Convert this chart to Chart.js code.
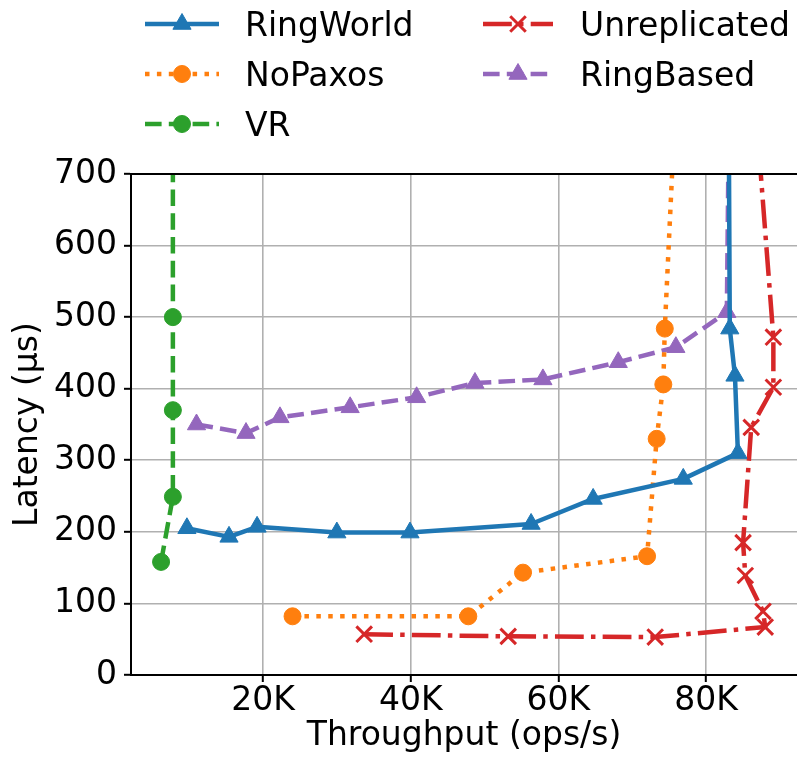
<!DOCTYPE html>
<html>
<head>
<meta charset="utf-8">
<script src="https://cdn.jsdelivr.net/npm/chart.js@4.4.1/dist/chart.umd.min.js"></script>
<style>
html, body { margin: 0; padding: 0; background: #fff; overflow: hidden; }
#wrap { width: 797px; height: 762px; }
</style>
</head>
<body>
<div id="wrap"><canvas id="latencyChart"></canvas></div>
<script>
// throughput (ops/s) and latency (us)
const ringWorldX = [9700, 15400, 19200, 30000, 39900, 56300, 64700, 76900, 84300, 83900, 83200, 83000];
const ringWorldY = [205, 193, 207, 199, 199, 211, 246, 274, 310, 418, 484, 900];

const noPaxosX = [24000, 47800, 55200, 72000, 73300, 74200, 74400, 76300];
const noPaxosY = [82, 82, 143, 166, 330, 406, 484, 900];

const vrX = [6200, 7800, 7800, 7800, 7800];
const vrY = [158, 249, 370, 500, 900];

const unreplicatedX = [33700, 53200, 73100, 88000, 87700, 85300, 85000, 86100, 89100, 89100, 85900];
const unreplicatedY = [57, 54, 53, 67, 89, 139, 185, 346, 402, 472, 900];

const ringBasedX = [11000, 17700, 22300, 31800, 40800, 48700, 57900, 68100, 75900, 82800, 83200];
const ringBasedY = [350, 338, 360, 374, 388, 408, 413, 437, 458, 507, 900];

const xTicks = [20000, 40000, 60000, 80000];
const yTicks = [0, 100, 200, 300, 400, 500, 600, 700];

const FONT = 'DejaVu Sans';
const FSIZE = 33;

function toPoints(xs, ys) {
    return xs.map((x, i) => ({ x: x, y: ys[i] }));
}

function series(label, xs, ys, color, dash, style, radius) {
    return {
        label: label,
        data: toPoints(xs, ys),
        showLine: true,
        borderColor: color,
        backgroundColor: color,
        borderWidth: 4.5,
        borderDash: dash,
        borderJoinStyle: 'round',
        tension: 0,
        pointStyle: style,
        pointRadius: radius,
        pointHoverRadius: radius,
        pointBorderWidth: style === 'crossRot' ? 3 : 1,
        pointBorderColor: color,
        pointBackgroundColor: color,
        clip: 0
    };
}

const datasets = [
    series('RingWorld', ringWorldX, ringWorldY, '#1f77b4', [], 'triangle', 10.5),
    series('NoPaxos', noPaxosX, noPaxosY, '#ff7f0e', [4.5, 7.4], 'circle', 8.5),
    series('VR', vrX, vrY, '#2ca02c', [16.6, 7.2], 'circle', 8.5),
    series('Unreplicated', unreplicatedX, unreplicatedY, '#d62728', [28.8, 7.2, 4.5, 7.2], 'crossRot', 11),
    series('RingBased', ringBasedX, ringBasedY, '#9467bd', [16.6, 7.2], 'triangle', 10.5)
];

// two column legend like the matplotlib one
const legendSlots = [
    { col: 0, row: 0 }, { col: 0, row: 1 }, { col: 0, row: 2 },
    { col: 1, row: 0 }, { col: 1, row: 1 }
];
const legendCols = [{ x0: 145, x1: 219, tx: 245 }, { x0: 483, x1: 553, tx: 580 }];

const legendAndFrame = {
    id: 'legendAndFrame',
    afterDraw(chart) {
        const ctx = chart.ctx;
        const area = chart.chartArea;
        ctx.save();
        // top spine
        ctx.strokeStyle = '#000';
        ctx.lineWidth = 2;
        ctx.beginPath();
        ctx.moveTo(area.left - 1, area.top);
        ctx.lineTo(area.right, area.top);
        ctx.stroke();

        chart.data.datasets.forEach((ds, i) => {
            const slot = legendSlots[i];
            const c = legendCols[slot.col];
            const y = 24 + slot.row * 50;
            ctx.strokeStyle = ds.borderColor;
            ctx.lineWidth = ds.borderWidth;
            ctx.lineCap = 'butt';
            ctx.setLineDash(ds.borderDash);
            ctx.beginPath();
            ctx.moveTo(c.x0, y);
            ctx.lineTo(c.x1, y);
            ctx.stroke();
            ctx.setLineDash([]);
            ctx.fillStyle = ds.borderColor;
            ctx.lineWidth = ds.pointBorderWidth;
            Chart.helpers.drawPoint(ctx, {
                pointStyle: ds.pointStyle,
                radius: ds.pointRadius,
                rotation: 0,
                borderWidth: ds.pointBorderWidth
            }, (c.x0 + c.x1) / 2, y);
            ctx.fillStyle = '#000';
            ctx.font = FSIZE + 'px "' + FONT + '"';
            ctx.textBaseline = 'alphabetic';
            ctx.textAlign = 'left';
            ctx.fillText(ds.label, c.tx, y + 12);
        });
        ctx.restore();
    }
};

const ctx = document.getElementById('latencyChart').getContext('2d');

const latencyChart = new Chart(ctx, {
    type: 'scatter',
    data: { datasets: datasets },
    plugins: [legendAndFrame],
    options: {
        responsive: true,
        maintainAspectRatio: false,
        animation: false,
        layout: { autoPadding: false, padding: { top: 174, left: 0, right: 0, bottom: 0 } },
        plugins: {
            legend: { display: false },
            tooltip: { enabled: false }
        },
        scales: {
            x: {
                type: 'linear',
                min: 2130,
                max: 92300,
                afterFit(scale) {
                    scale.height = 87;
                    scale.paddingLeft = 0;
                    scale.paddingRight = 0;
                },
                afterBuildTicks(scale) { scale.ticks = xTicks.map(v => ({ value: v })); },
                grid: { color: '#b0b0b0', lineWidth: 1.6, tickColor: '#000', tickLength: 7, tickWidth: 2 },
                border: { color: '#000', width: 2 },
                ticks: {
                    color: '#000',
                    font: { family: FONT, size: FSIZE },
                    padding: 0,
                    maxRotation: 0,
                    autoSkip: false,
                    callback: v => (v / 1000) + 'K'
                },
                title: {
                    display: true,
                    text: 'Throughput (ops/s)',
                    color: '#000',
                    font: { family: FONT, size: FSIZE },
                    padding: { top: 0, bottom: 5.5 }
                }
            },
            y: {
                type: 'linear',
                min: 0,
                max: 700,
                afterFit(scale) {
                    scale.width = 131;
                    scale.paddingTop = 0;
                    scale.paddingBottom = 0;
                },
                afterBuildTicks(scale) { scale.ticks = yTicks.map(v => ({ value: v })); },
                grid: { color: '#b0b0b0', lineWidth: 1.6, tickColor: '#000', tickLength: 7, tickWidth: 2 },
                border: { color: '#000', width: 2 },
                ticks: {
                    color: '#000',
                    font: { family: FONT, size: FSIZE },
                    padding: 7,
                    autoSkip: false
                },
                title: {
                    display: true,
                    text: 'Latency (µs)',
                    color: '#000',
                    font: { family: FONT, size: FSIZE },
                    padding: { top: 9, bottom: 0 }
                }
            }
        }
    }
});
</script>
</body>
</html>
